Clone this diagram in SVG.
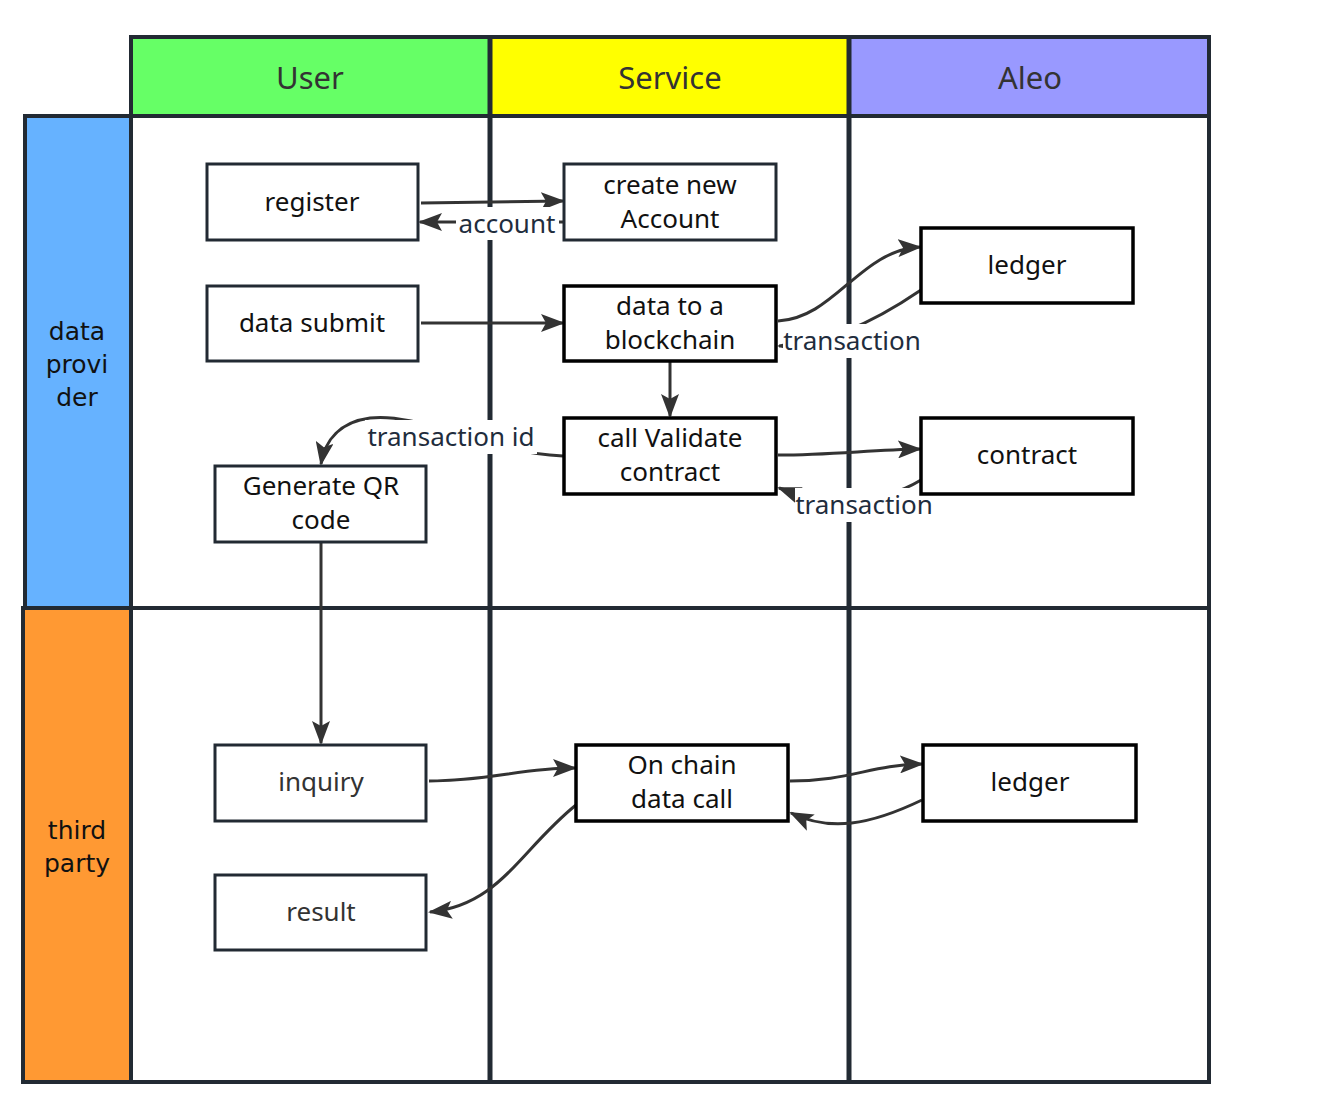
<svg xmlns="http://www.w3.org/2000/svg" width="1324" height="1100" viewBox="0 0 1324 1100">
<style>
.frame{fill:none;stroke:#222a33;stroke-width:4}
.col{fill:none;stroke:#222a33;stroke-width:5}
.hdr{font-family:"Noto Sans","Liberation Sans",sans-serif;font-size:31px;fill:#333;text-anchor:middle}
.lane{font-family:"DejaVu Sans","Liberation Sans",sans-serif;font-size:25px;fill:#111;text-anchor:middle}
.box{fill:#fff;stroke:#222a33;stroke-width:3}
.boxb{fill:#fff;stroke:#000;stroke-width:3.5}
.t{font-family:"Noto Sans","Liberation Sans",sans-serif;font-size:26px;fill:#111;text-anchor:middle}
.tg{font-family:"Noto Sans","Liberation Sans",sans-serif;font-size:26px;fill:#333;text-anchor:middle}
.lbl{font-family:"Noto Sans","Liberation Sans",sans-serif;font-size:26px;fill:#1f2d3d;text-anchor:middle}
.c{fill:none;stroke:#333;stroke-width:3}
</style>
<defs>
<marker id="ah" markerUnits="userSpaceOnUse" markerWidth="24" markerHeight="18" viewBox="0 0 24 18" refX="22" refY="9" orient="auto">
<path d="M0,0 L24,9 L0,18 L5,9 Z" fill="#333"/>
</marker>
</defs>
<rect width="1324" height="1100" fill="#fff"/>
<g id="pool">
<rect x="131" y="37" width="359" height="79" fill="#66ff66"/>
<rect x="490" y="37" width="359" height="79" fill="#ffff00"/>
<rect x="849" y="37" width="360" height="79" fill="#9999ff"/>
<rect x="25" y="116" width="106" height="492" fill="#66b2ff"/>
<rect x="23" y="608" width="108" height="474" fill="#ff9933"/>
<rect x="131" y="37" width="1078" height="1045" class="frame"/>
<line x1="131" y1="116" x2="1209" y2="116" class="frame"/>
<line x1="490" y1="37" x2="490" y2="1082" class="col"/>
<line x1="849" y1="37" x2="849" y2="1082" class="col"/>
<line x1="23" y1="608" x2="1209" y2="608" class="frame"/>
<rect x="25" y="116" width="106" height="492" class="frame"/>
<rect x="23" y="608" width="108" height="474" class="frame"/>
<text x="310" y="89" class="hdr">User</text>
<text x="670" y="89" class="hdr">Service</text>
<text x="1030" y="89" class="hdr">Aleo</text>
<text x="77" y="340" class="lane">data</text>
<text x="77" y="373" class="lane">provi</text>
<text x="77" y="406" class="lane">der</text>
<text x="77" y="839" class="lane">third</text>
<text x="77" y="872" class="lane">party</text>
</g>
<g id="connectors">
<path class="c" d="M421,203 L563,201" marker-end="url(#ah)"/>
<path class="c" d="M563,222 L420,222" marker-end="url(#ah)"/>
<path class="c" d="M421,323 L563,323" marker-end="url(#ah)"/>
<path class="c" d="M778,321 C835,318 860,250 920,247" marker-end="url(#ah)"/>
<path class="c" d="M921,290 C880,318 830,345 779,346" marker-end="url(#ah)"/>
<path class="c" d="M670,362 L670,416" marker-end="url(#ah)"/>
<path class="c" d="M563,456 C480,452 420,412 370,418 C340,422 325,440 321,464" marker-end="url(#ah)"/>
<path class="c" d="M778,455 C830,455 870,450 920,449" marker-end="url(#ah)"/>
<path class="c" d="M921,480 C880,505 825,505 779,488" marker-end="url(#ah)"/>
<path class="c" d="M321,543 L321,743" marker-end="url(#ah)"/>
<path class="c" d="M429,781 C490,781 520,768 575,768" marker-end="url(#ah)"/>
<path class="c" d="M790,781 C850,781 870,765 922,764" marker-end="url(#ah)"/>
<path class="c" d="M922,800 C870,825 830,832 791,813" marker-end="url(#ah)"/>
<path class="c" d="M576,805 C520,850 500,905 430,912" marker-end="url(#ah)"/>
<rect x="456" y="207" width="103" height="33" fill="#fff"/>
<text x="507" y="233" class="lbl">account</text>
<rect x="783" y="324" width="138" height="34" fill="#fff"/>
<text x="852" y="350" class="lbl">transaction</text>
<rect x="365" y="420" width="172" height="34" fill="#fff"/>
<text x="451" y="446" class="lbl">transaction id</text>
<rect x="795" y="488" width="139" height="34" fill="#fff"/>
<text x="864" y="514" class="lbl">transaction</text>
</g>
<g id="register"><rect x="207" y="164" width="211" height="76" class="box"/><text x="312" y="211" class="t">register</text></g>
<g id="create"><rect x="564" y="164" width="212" height="76" class="box"/><text x="670" y="194" class="t">create new</text><text x="670" y="228" class="t">Account</text></g>
<g id="ledger1"><rect x="921" y="228" width="212" height="75" class="boxb"/><text x="1027" y="274" class="t">ledger</text></g>
<g id="datasubmit"><rect x="207" y="286" width="211" height="75" class="box"/><text x="312" y="332" class="t">data submit</text></g>
<g id="datachain"><rect x="564" y="286" width="212" height="75" class="boxb"/><text x="670" y="315" class="t">data to a</text><text x="670" y="349" class="t">blockchain</text></g>
<g id="callvalidate"><rect x="564" y="418" width="212" height="76" class="boxb"/><text x="670" y="447" class="t">call Validate</text><text x="670" y="481" class="t">contract</text></g>
<g id="contract"><rect x="921" y="418" width="212" height="76" class="boxb"/><text x="1027" y="464" class="t">contract</text></g>
<g id="qr"><rect x="215" y="466" width="211" height="76" class="box"/><text x="321" y="495" class="t">Generate QR</text><text x="321" y="529" class="t">code</text></g>
<g id="inquiry"><rect x="215" y="745" width="211" height="76" class="box"/><text x="321" y="791" class="tg">inquiry</text></g>
<g id="result"><rect x="215" y="875" width="211" height="75" class="box"/><text x="321" y="921" class="tg">result</text></g>
<g id="onchain"><rect x="576" y="745" width="212" height="76" class="boxb"/><text x="682" y="774" class="t">On chain</text><text x="682" y="808" class="t">data call</text></g>
<g id="ledger2"><rect x="923" y="745" width="213" height="76" class="boxb"/><text x="1030" y="791" class="t">ledger</text></g>
</svg>
